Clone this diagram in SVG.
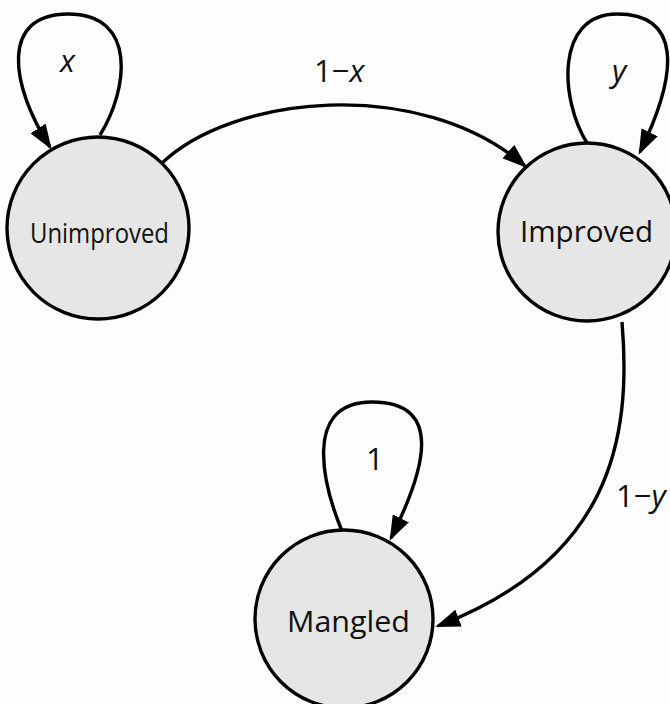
<svg xmlns="http://www.w3.org/2000/svg" width="670" height="704" viewBox="0 0 670 704">
<style>
.node circle{fill:#e6e6e6;stroke:#000;stroke-width:3.4}
.node text{font-family:"Open Sans","Noto Sans","Liberation Sans",sans-serif;fill:#111;text-anchor:middle}
.edges path{fill:none;stroke:#000;stroke-width:3.4;marker-end:url(#arr)}
.lbl{font-family:"Open Sans","Noto Sans","Liberation Sans",sans-serif;font-size:31px;fill:#111}
.it{font-style:italic}
</style>
<defs>
<marker id="arr" markerUnits="userSpaceOnUse" markerWidth="26" markerHeight="18" refX="22" refY="9" orient="auto">
<path d="M0,0 L25,9 L0,18 z" fill="#000"/>
</marker>
</defs>
<rect width="670" height="704" fill="#fdfdfd"/>
<g class="edges" id="edges">
<path d="M100,135 C128,90 138,14 68,14 C0,14 10,85 50,147"/>
<path d="M587,143 C560,100 555,14 617,14 C680,14 680,70 640,152"/>
<path d="M342,531 C325,490 300,402 372,402 C445,402 425,470 391,538"/>
<path d="M160,165 C230,95 420,75 525,166"/>
<path d="M622,322 C632,440 610,560 438,626"/>
</g>
<g id="labels">
<text class="lbl it" x="60" y="72">x</text>
<text class="lbl it" x="612" y="82">y</text>
<text class="lbl" x="366" y="470">1</text>
<text class="lbl" x="314" y="82">1−<tspan class="it">x</tspan></text>
<text class="lbl" x="616" y="507">1−<tspan class="it">y</tspan></text>
</g>
<g class="node" id="unimproved">
<circle cx="98" cy="228" r="91"/>
<text x="99.5" y="243" font-size="28" textLength="139" lengthAdjust="spacingAndGlyphs">Unimproved</text>
</g>
<g class="node" id="improved">
<circle cx="587" cy="232" r="89"/>
<text x="586.5" y="242" font-size="30" textLength="133" lengthAdjust="spacingAndGlyphs">Improved</text>
</g>
<g class="node" id="mangled">
<circle cx="344" cy="619" r="89"/>
<text x="348.5" y="632" font-size="30" textLength="123" lengthAdjust="spacingAndGlyphs">Mangled</text>
</g>
</svg>
